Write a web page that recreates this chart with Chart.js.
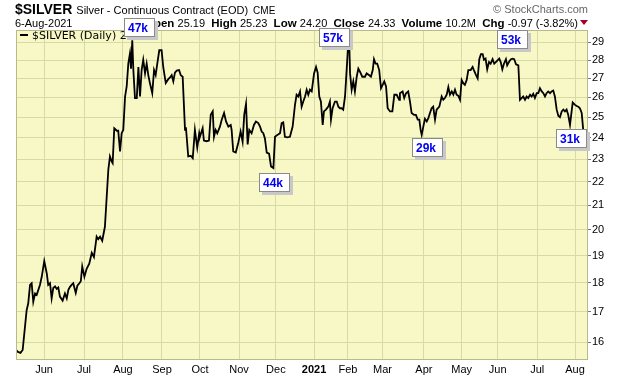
<!DOCTYPE html>
<html><head><meta charset="utf-8">
<script src="https://cdn.jsdelivr.net/npm/chart.js@4.4.0/dist/chart.umd.min.js"></script>
<style>html,body{margin:0;padding:0;background:#fff;}canvas{display:block;}</style>
</head><body>
<canvas id="c" width="620" height="376"></canvas>
<script>
// trading-day index (0 = first bar, ~11 May 2020) and daily close
const tradingDays = [0,1.1,2.5,3.7,5.9,6.8,7.8,8.7,9.6,10.6,11.5,13.3,14.3,15.7,17.1,17.9,18.9,19.8,20.7,21.7,22.6,23.5,24.4,25.9,27.2,28.2,29.1,30,30.9,31.8,33.2,34.1,35.2,36,36.8,38,39.3,40.7,42.1,43.3,44.8,45.7,46.7,47.9,49.4,50.4,51.3,52.2,53.2,53.7,54.6,56,56.8,57.8,58.7,59.6,60.6,61.5,62.4,63.3,63.9,64.6,65.2,66.1,67.1,68,68.9,69.8,70.7,71.7,72.6,73.5,74.4,75.7,76.7,77.6,78.5,79.6,80.9,81.8,83.2,84.6,85.6,86.5,87.4,88.3,89.3,90.6,91.5,92.6,93.9,94.4,95.7,97.1,98.2,99.4,100.7,101.8,102.2,103.7,104.4,105.9,107.2,108.2,109.3,110,110.9,111.8,113.3,114.3,115.6,116.7,118,119.3,119.8,120.7,122.1,123.5,124.8,125.9,126.8,127.8,128.7,129.6,130.9,132.2,133.3,134.6,135.6,136.5,137.4,138.3,139.3,140.6,141.7,143,143.9,145.2,146.7,147.6,148.5,149.4,150.7,152.2,153.7,155,155.9,156.8,157.8,158.7,159.6,160.6,161.5,162.4,163.3,164.3,165.6,166.7,167.6,168.5,169.4,170.4,171.1,172.2,173.5,174.4,175,175.9,177.2,178.2,179.1,180,180.9,181.8,182.8,183.7,184.6,185,185.6,186.5,187.4,188.3,189.3,190.2,191.1,192.4,193.9,194.8,196.1,197.2,198.2,198.9,199.8,200.7,201.8,202.8,203.7,204.6,205.6,206.5,207.8,209.1,210.2,211.5,212.9,213.3,214.8,215.7,216.7,217.9,218.9,219.8,221.1,222.2,223.2,224.1,224.8,225.4,226.3,227.2,228.2,229.1,230,230.9,231.8,232.8,233.7,235.2,236.5,237.4,238.3,239.3,240.2,241.1,242.1,243,243.9,244.8,245.7,246.7,247.6,248.5,249.4,250.4,251.3,252.6,253.7,254.4,255.6,256.5,257.4,258.3,259.3,260,260.9,261.8,262.8,263.7,264.8,265.7,267,268.5,269.3,270.2,271.1,272.2,272.9,274.1,275,275.9,276.8,277.8,279.1,280,280.9,281.8,282.8,283.7,284.6,285.6,286.5,287.4,288.3,289.3,290.2,291.1,292.1,293,293.9,294.8,295.7,296.7,297.6,298.5,299.4,300.4,301.3,302.2,303.2,304.1,305,305.9,306.8,307.8,308.7,309.3,310.6,311.5,312.4,313.3,314.3,315.2];
const closes = [15.76,15.70,15.67,15.76,17.05,17.29,17.93,17.99,17.34,17.63,17.58,17.93,18.22,18.80,18.34,17.93,17.99,17.46,17.82,17.88,17.79,17.84,17.52,17.38,17.63,17.46,17.76,17.86,17.93,17.99,17.65,17.90,17.99,18.06,18.60,18.22,18.52,18.70,19.11,18.95,19.73,19.63,19.73,19.57,20.12,21.36,22.53,23.13,22.90,22.83,24.46,24.34,24.34,23.36,24.22,24.38,26.05,26.57,27.80,28.36,27.53,29.12,27.45,25.97,25.97,27.62,26.05,27.45,28.02,27.27,27.80,27.18,26.75,26.22,27.45,27.18,27.80,28.55,28.55,27.62,26.75,26.96,27.05,27.18,26.84,27.31,27.42,27.45,27.18,27.09,24.38,24.51,23.13,23.16,23.05,24.38,23.54,24.22,24.05,24.46,23.87,23.84,23.87,25.12,25.29,24.05,24.38,24.22,24.54,24.88,25.21,24.79,24.54,24.62,24.38,23.36,23.31,23.77,24.30,23.82,25.12,25.67,23.69,24.38,24.22,24.62,24.79,24.71,24.54,24.30,24.22,23.97,23.31,23.26,22.67,22.60,24.05,24.14,24.22,24.71,24.75,24.05,24.02,24.05,24.54,25.62,26.14,26.05,26.31,25.53,25.79,26.05,26.40,26.14,26.40,26.31,27.27,27.62,27.31,26.05,25.79,24.62,25.29,25.38,25.53,25.79,24.88,25.45,25.79,25.79,25.53,25.45,25.45,25.38,26.05,27.45,29.00,29.60,27.27,26.40,26.84,26.31,27.09,27.53,27.36,27.09,27.09,27.27,27.18,27.09,27.45,28.05,27.80,27.80,27.45,26.48,26.66,26.84,26.57,25.45,25.29,25.29,26.14,26.14,25.88,26.22,26.31,25.97,26.22,26.31,25.79,25.21,25.12,25.12,24.88,24.88,24.38,24.14,24.54,24.92,24.79,24.96,25.21,25.45,25.53,24.88,25.38,25.53,26.05,25.88,25.97,26.14,26.54,26.14,26.31,26.14,26.40,26.14,26.09,25.88,26.92,26.75,26.66,26.92,27.45,27.45,27.62,27.45,27.18,27.00,28.05,28.33,28.33,28.02,28.08,27.49,27.89,27.80,28.05,27.80,27.93,28.08,27.89,27.49,27.80,28.05,27.71,27.93,28.05,28.08,28.05,27.77,27.71,25.88,25.97,26.05,25.88,26.05,25.97,26.14,26.05,26.19,25.97,26.22,26.22,26.48,26.31,26.22,26.05,26.22,26.31,26.22,26.31,26.36,26.05,25.38,25.07,25.00,25.29,25.38,25.29,25.38,25.12,24.62,25.29,25.74,25.62,25.56,25.53,25.45,25.21,24.33];

const yTicks = [16,17,18,19,20,21,22,23,24,25,26,27,28,29];
const monthTickDays = [15.6,37.8,59.4,81.1,102.2,123.9,144.4,165.6,184.4,203.6,226.6,247.6,267.6,289.6,310.6];
const monthLabels = ['Jun','Jul','Aug','Sep','Oct','Nov','Dec','2021','Feb','Mar','Apr','May','Jun','Jul','Aug'];

// volume call-outs: anchor (trading day of left edge, price at top edge)
const annDays = [60.0,168.3,267.2,135.0,220.0,300.0];
const annTops = [30.41,29.85,29.73,22.39,24.0,24.43];
const annLabels = ['47k','57k','53k','44k','29k','31k'];

const headerLabels = ['Open','High','Low','Close','Volume','Chg'];
const headerValues = ['25.19','25.23','24.20','24.33','10.2M','-0.97 (-3.82%)'];

const points = tradingDays.map((d,i)=>({x:d,y:closes[i]}));

const FONT = '"Liberation Sans", Arial, sans-serif';

const decor = {
  id:'decor',
  beforeDraw(chart){
    const {ctx, chartArea:a} = chart;
    ctx.save();
    ctx.fillStyle='#ffffff'; ctx.fillRect(0,0,chart.width,chart.height);
    ctx.fillStyle='#f8f7c6'; ctx.fillRect(a.left,a.top,a.right-a.left,a.bottom-a.top);
    ctx.restore();
  },
  afterDatasetsDraw(chart){
    const {ctx, chartArea:a} = chart;
    ctx.save();
    ctx.strokeStyle='#b9b98f'; ctx.lineWidth=1;
    ctx.strokeRect(a.left+0.5,a.top+0.5,a.right-a.left-1,a.bottom-a.top-1);
    ctx.fillStyle='#000';
    ctx.fillRect(a.left+4,a.top+4,8,2);
    ctx.font='11px "DejaVu Sans", sans-serif';
    ctx.textBaseline='alphabetic';
    ctx.fillText('$SILVER (Daily) '+closes[closes.length-1].toFixed(2), a.left+16, a.top+9);
    ctx.restore();
  },
  afterDraw(chart){
    const {ctx, chartArea:a, scales} = chart;
    ctx.save();
    ctx.textBaseline='alphabetic';
    ctx.fillStyle='#000';
    let x=a.left-1;
    ctx.font='bold 14px '+FONT; ctx.fillText('$SILVER',x,14); x+=ctx.measureText('$SILVER').width+4;
    ctx.font='11px '+FONT; ctx.fillText('Silver - Continuous Contract (EOD)',x,14); x+=ctx.measureText('Silver - Continuous Contract (EOD)').width+5;
    ctx.font='10px '+FONT; ctx.fillText('CME',x,14);
    ctx.font='11px '+FONT; ctx.fillText('6-Aug-2021',a.left-1,27);
    const parts=[];
    headerLabels.forEach((l,i)=>{parts.push(['bold 11.5px '+FONT,l+' ']);parts.push(['11px '+FONT,headerValues[i]+(i<headerLabels.length-1?'  ':'')]);});
    let tw=0; parts.forEach(p=>{ctx.font=p[0]; tw+=ctx.measureText(p[1]).width;});
    let qx=a.right-10-tw;
    parts.forEach(p=>{ctx.font=p[0]; ctx.fillText(p[1],qx,27); qx+=ctx.measureText(p[1]).width;});
    ctx.fillStyle='#a0002a';
    ctx.beginPath(); ctx.moveTo(a.right-8,20); ctx.lineTo(a.right,20); ctx.lineTo(a.right-4,25); ctx.closePath(); ctx.fill();
    ctx.fillStyle='#666'; ctx.font='11px '+FONT; ctx.textAlign='right';
    ctx.fillText('\u00A9 StockCharts.com',a.right,13);
    ctx.textAlign='left';
    // call-out boxes drawn last (over header and line)
    annLabels.forEach((t,i)=>{
      const bx=Math.round(scales.x.getPixelForValue(annDays[i]));
      const by=Math.round(scales.y.getPixelForValue(annTops[i]));
      const w=31,h=19;
      ctx.fillStyle='#c8c8c8'; ctx.fillRect(bx+3,by+3,w,h);
      ctx.fillStyle='#ffffff'; ctx.fillRect(bx,by,w,h);
      ctx.strokeStyle='#8a8a8a'; ctx.lineWidth=1; ctx.strokeRect(bx+0.5,by+0.5,w-1,h-1);
      ctx.fillStyle='#0000ee'; ctx.font='bold 12px '+FONT;
      ctx.fillText(t,bx+4,by+14);
    });
    ctx.restore();
  }
};

new Chart(document.getElementById('c'),{
  type:'line',
  data:{datasets:[{data:points,borderColor:'#000',borderWidth:1.8,pointRadius:0,tension:0,fill:false}]},
  options:{
    responsive:false,animation:false,devicePixelRatio:1,
    layout:{padding:{left:16,top:30,right:0,bottom:0}},
    plugins:{legend:{display:false},tooltip:{enabled:false}},
    scales:{
      x:{type:'linear',min:0,max:317.8,
        afterBuildTicks:s=>{s.ticks=monthTickDays.map(v=>({value:v}));},
        afterFit:s=>{s.height=16;},
        grid:{color:'#d6daa6',drawTicks:false},
        border:{display:false},
        ticks:{padding:3,color:'#000',maxRotation:0,autoSkip:false,
          callback:(v,i)=>monthLabels[i],
          font:c=>({family:FONT,size:11,weight:monthLabels[c.index]==='2021'?'bold':'normal'})}
      },
      y:{type:'logarithmic',position:'right',min:15.45,max:29.72,
        afterBuildTicks:s=>{s.ticks=yTicks.map(v=>({value:v}));},
        afterFit:s=>{s.width=32;},
        grid:{color:'#d6daa6',tickLength:3,tickColor:'#777'},
        border:{display:false},
        ticks:{padding:1,color:'#000',autoSkip:false,callback:v=>String(v),font:{family:FONT,size:11}}
      }
    }
  },
  plugins:[decor]
});
</script>
</body></html>
